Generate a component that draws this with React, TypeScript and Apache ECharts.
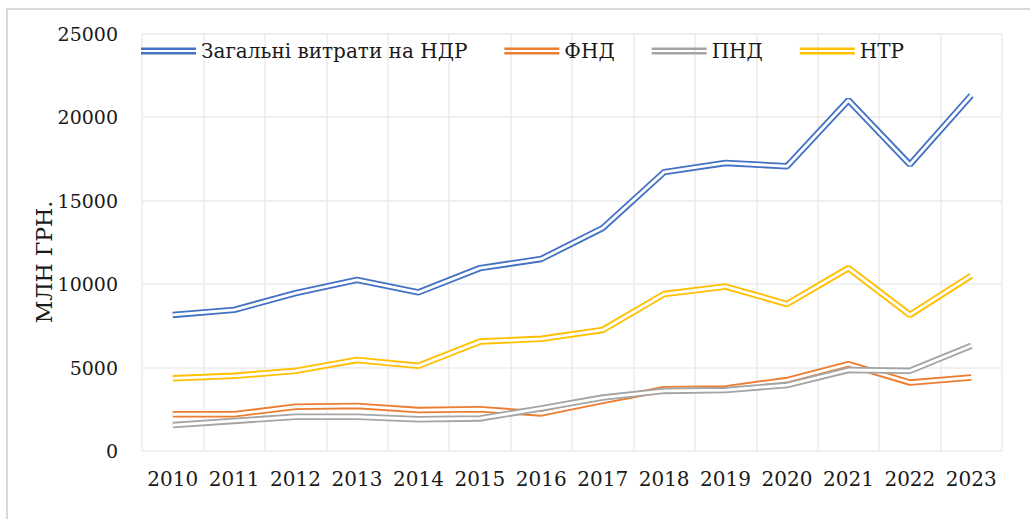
import React, { useEffect, useRef } from "react";
import * as echarts from "echarts";

const years = ["2010", "2011", "2012", "2013", "2014", "2015", "2016", "2017", "2018", "2019", "2020", "2021", "2022", "2023"];
const totalRnd = [8150, 8450, 9450, 10250, 9500, 10950, 11500, 13350, 16700, 17250, 17050, 21000, 17150, 21300];
const fnd = [2200, 2200, 2650, 2700, 2450, 2500, 2250, 3000, 3700, 3750, 4250, 5200, 4100, 4400];
const pnd = [1550, 1800, 2050, 2050, 1900, 1950, 2550, 3200, 3600, 3650, 3950, 4850, 4800, 6300];
const ntr = [4350, 4500, 4800, 5450, 5100, 6550, 6720, 7250, 9400, 9850, 8800, 10950, 8150, 10500];

const seriesNames = ["Загальні витрати на НДР", "ФНД", "ПНД", "НТР"];
const seriesData = [totalRnd, fnd, pnd, ntr];
const colors = ["#4472C4", "#ED7D31", "#A5A5A5", "#FFC000"];
const yAxisTitle = "МЛН ГРН.";

const FONT = "DejaVu Serif";
const ICON = "path://M0,0H55V2.6H0ZM0,4.6H55V7.2H0Z";

export default function App() {
  const ref = useRef<HTMLDivElement>(null);
  useEffect(() => {
    if (!ref.current) return;
    const chart = echarts.init(ref.current, undefined, { renderer: "svg" });
    const series: any[] = [];
    seriesData.forEach((d, i) => {
      series.push({
        name: seriesNames[i],
        type: "line",
        data: d,
        symbol: "none",
        color: colors[i],
        lineStyle: { color: colors[i], width: 6.5 },
        z: 2 + i * 2,
      });
      series.push({
        name: "_inner" + i,
        type: "line",
        data: d,
        symbol: "none",
        lineStyle: { color: "#ffffff", width: 2.8 },
        z: 3 + i * 2,
        silent: true,
      });
    });
    chart.setOption({
      animation: false,
      backgroundColor: "#ffffff",
      grid: { left: 142, right: 28, top: 33.5, bottom: 68 },
      legend: {
        left: 136,
        top: 36,
        itemWidth: 55,
        itemHeight: 7.2,
        itemGap: 37,
        data: seriesNames.map((n) => ({ name: n, icon: ICON })),
        textStyle: { fontFamily: FONT, fontSize: 20, color: "#1a1a1a" },
      },
      xAxis: {
        type: "category",
        data: years,
        boundaryGap: true,
        axisLine: { show: false },
        axisTick: { show: false },
        splitLine: { show: true, lineStyle: { color: "#ebebeb", width: 1.5 } },
        axisLabel: { fontFamily: FONT, fontSize: 20, color: "#1a1a1a", margin: 18, interval: 0 },
      },
      yAxis: {
        type: "value",
        min: 0,
        max: 25000,
        interval: 5000,
        axisLine: { show: false },
        axisTick: { show: false },
        splitLine: { show: true, lineStyle: { color: "#ebebeb", width: 1.5 } },
        axisLabel: {
          fontFamily: FONT,
          fontSize: 19,
          color: "#1a1a1a",
          margin: 24,
          formatter: (v: number) => String(v),
        },
      },
      graphic: [
        {
          type: "rect",
          shape: { x: 7, y: 9, width: 1100, height: 600 },
          style: { fill: "none", stroke: "#d9d9d9", lineWidth: 2 },
          silent: true,
          z: 100,
        },
        {
          type: "text",
          x: 44,
          y: 262,
          rotation: Math.PI / 2,
          style: {
            text: yAxisTitle,
            fontFamily: FONT,
            fontSize: 22,
            fill: "#1a1a1a",
            align: "center",
            verticalAlign: "middle",
          },
        },
      ],
      series,
    });
    return () => chart.dispose();
  }, []);
  return <div ref={ref} style={{ position: "fixed", left: 0, top: 0, width: 1030, height: 519 }} />;
}
